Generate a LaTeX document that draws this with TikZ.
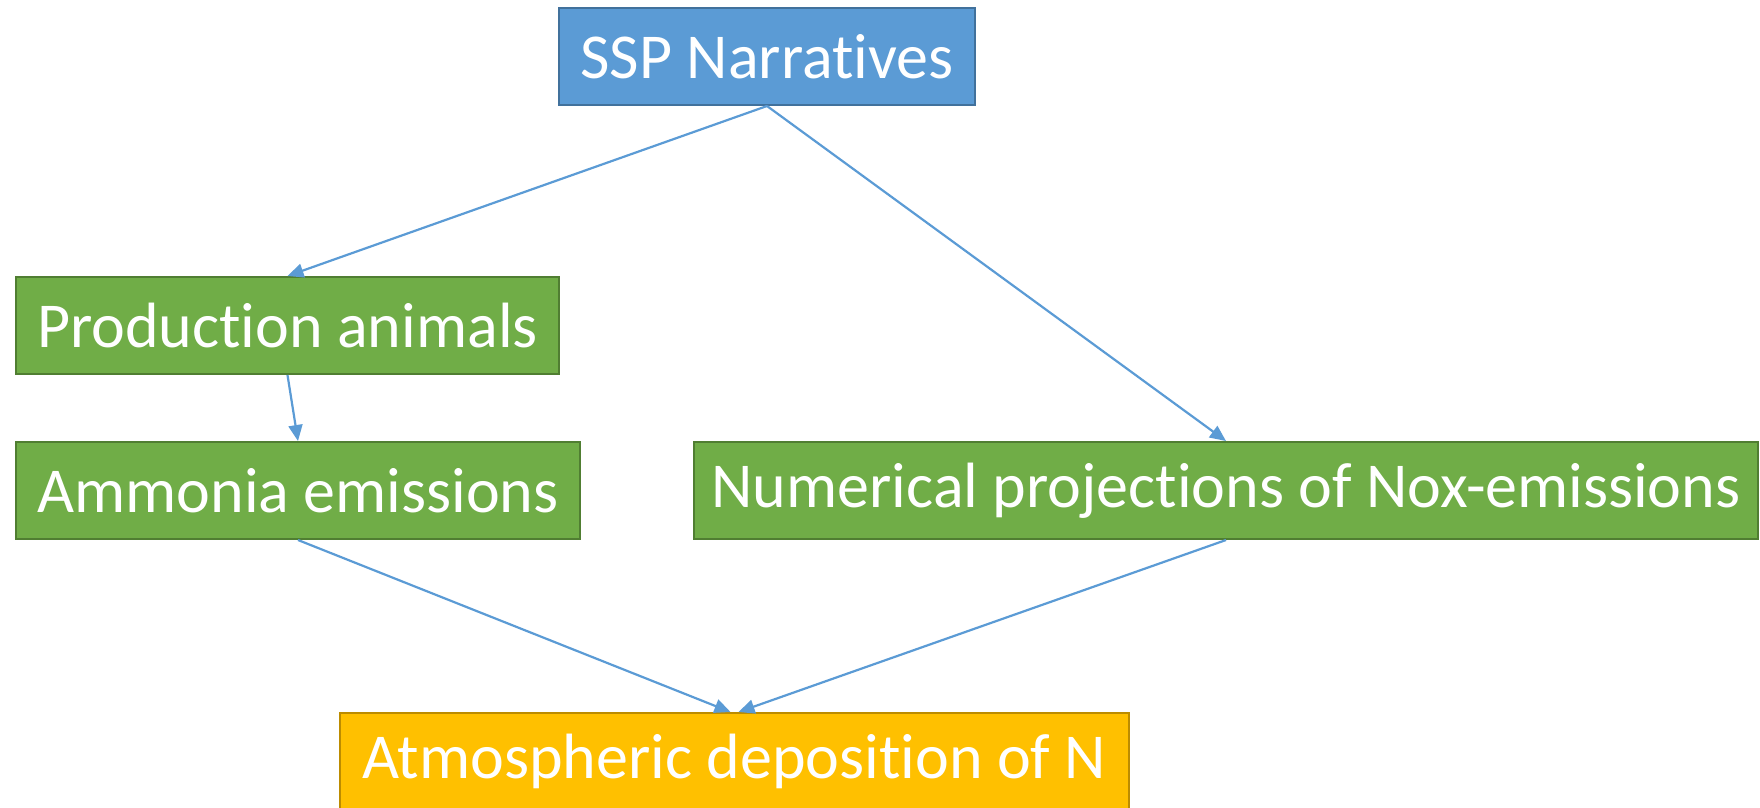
\documentclass[tikz,border=0pt]{standalone}
\usepackage{fontspec}
\setmainfont{Carlito}[Ligatures={NoCommon,NoRequired,NoContextual}]
\usetikzlibrary{arrows.meta}
\definecolor{sspblue}{HTML}{5B9BD5}
\definecolor{sspedge}{HTML}{41719C}
\definecolor{boxgreen}{HTML}{70AD47}
\definecolor{greenedge}{HTML}{507E32}
\definecolor{boxorange}{HTML}{FFC000}
\definecolor{orangeedge}{HTML}{BC8C00}
\definecolor{arrowblue}{HTML}{5B9BD5}
\begin{document}
\begin{tikzpicture}[x=1pt,y=-1pt,
  box/.style={rectangle, line width=2pt, inner sep=0pt, minimum height=97pt, text=white,
    font=\fontsize{64}{76}\selectfont},
  bluebox/.style={box, fill=sspblue, draw=sspedge},
  greenbox/.style={box, fill=boxgreen, draw=greenedge},
  orangebox/.style={box, fill=boxorange, draw=orangeedge},
  conn/.style={draw=arrowblue, line width=2.2pt, -{Triangle[length=16pt,width=14pt]}}]
\useasboundingbox (0,0) rectangle (1760,807);
\node[bluebox, minimum width=416pt] (ssp) at (767,56.5) {SSP Narratives};
\node[greenbox, minimum width=543pt] (prod) at (287.5,325.5) {Production animals};
\node[greenbox, minimum width=564pt] (amm) at (298,490.5) {Ammonia emissions};
\node[greenbox, minimum width=1064pt] (num) at (1226,490.5) {Numerical projections of Nox-emissions};
\node[orangebox, minimum width=789pt] (atm) at (734.5,761.5) {Atmospheric deposition of N};
\draw[conn] (ssp.south) -- (prod.north);
\draw[conn] (ssp.south) -- (num.north);
\draw[conn] (prod.south) -- (amm.north);
\draw[conn] (amm.south) -- ([xshift=-4pt]atm.north);
\draw[conn] (num.south) -- ([xshift=4pt]atm.north);
\end{tikzpicture}
\end{document}
